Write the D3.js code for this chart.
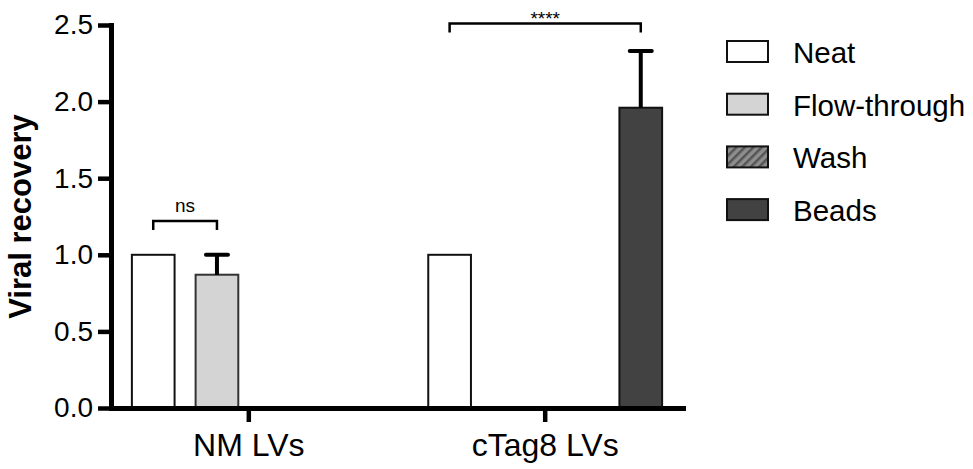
<!DOCTYPE html>
<html>
<head>
<meta charset="utf-8">
<script src="https://cdn.jsdelivr.net/npm/d3@7"></script>
<style>
  body { margin: 0; background: #fff; }
  svg { display: block; }
  text { font-family: "Liberation Sans", Arial, Helvetica, sans-serif; fill: #000; }
</style>
</head>
<body>
<script>
// data
const groups = ["NM LVs", "cTag8 LVs"];
const series = ["Neat", "Flow-through", "Wash", "Beads"];
const meanNM = [1.0, 0.87, null, null];
const meanCTag8 = [1.0, null, null, 1.96];
const errNM = [0, 0.13, 0, 0];
const errCTag8 = [0, 0, 0, 0.37];
const yTicks = [0, 0.5, 1.0, 1.5, 2.0, 2.5];
// significance brackets: group, from series, to series, height (axis units), label
const brackets = [
  { group: "NM LVs", from: "Neat", to: "Flow-through", y: 1.22, label: "ns" },
  { group: "cTag8 LVs", from: "Neat", to: "Beads", y: 2.51, label: "****" }
];

const width = 973, height = 469;
const fills = { "Neat": "#ffffff", "Flow-through": "#d4d4d4", "Wash": "url(#hatch)", "Beads": "#424242" };
const strokes = { "Neat": "#111", "Flow-through": "#333", "Wash": "#222", "Beads": "#111" };

const rows = groups.map((g, gi) => ({
  group: g,
  values: series.map((s, si) => ({
    group: g,
    series: s,
    mean: gi === 0 ? meanNM[si] : meanCTag8[si],
    err: gi === 0 ? errNM[si] : errCTag8[si]
  }))
}));

const svg = d3.select("body").append("svg")
  .attr("width", width)
  .attr("height", height);

const defs = svg.append("defs");
const pat = defs.append("pattern")
  .attr("id", "hatch")
  .attr("patternUnits", "userSpaceOnUse")
  .attr("width", 6)
  .attr("height", 6)
  .attr("patternTransform", "rotate(45)");
pat.append("rect").attr("width", 6).attr("height", 6).attr("fill", "#8e8e8e");
pat.append("rect").attr("width", 2.5).attr("height", 6).attr("fill", "#555");

const x0 = d3.scaleBand()
  .domain(groups)
  .range([111, 683])
  .paddingInner(0.14)
  .paddingOuter(0.035);

const x1 = d3.scaleBand()
  .domain(series)
  .range([0, x0.bandwidth()])
  .paddingInner(0.33)
  .paddingOuter(0.165);

const y = d3.scaleLinear()
  .domain([0, 2.5])
  .range([408, 25]);

// bars
const gGroups = svg.append("g")
  .selectAll("g")
  .data(rows)
  .join("g")
  .attr("transform", d => `translate(${x0(d.group)},0)`);

gGroups.selectAll("rect")
  .data(d => d.values.filter(v => v.mean != null))
  .join("rect")
  .attr("x", d => x1(d.series))
  .attr("y", d => y(d.mean))
  .attr("width", x1.bandwidth())
  .attr("height", d => y(0) - y(d.mean))
  .attr("fill", d => fills[d.series])
  .attr("stroke", d => strokes[d.series])
  .attr("stroke-width", 2);

// error bars (upper only)
const errs = gGroups.selectAll("g.err")
  .data(d => d.values.filter(v => v.mean != null && v.err > 0))
  .join("g")
  .attr("class", "err");

errs.append("line")
  .attr("x1", d => x1(d.series) + x1.bandwidth() / 2)
  .attr("x2", d => x1(d.series) + x1.bandwidth() / 2)
  .attr("y1", d => y(d.mean))
  .attr("y2", d => y(d.mean + d.err))
  .attr("stroke", "#000")
  .attr("stroke-width", 4);

errs.append("line")
  .attr("x1", d => x1(d.series) + x1.bandwidth() / 2 - 11)
  .attr("x2", d => x1(d.series) + x1.bandwidth() / 2 + 11)
  .attr("y1", d => y(d.mean + d.err))
  .attr("y2", d => y(d.mean + d.err))
  .attr("stroke", "#000")
  .attr("stroke-width", 4)
  .attr("stroke-linecap", "round");

// axes
const yAxis = svg.append("g")
  .attr("transform", "translate(111,0)")
  .call(d3.axisLeft(y).tickValues(yTicks).tickFormat(d3.format(".1f")).tickSize(13).tickSizeOuter(0).tickPadding(5));

const xAxis = svg.append("g")
  .attr("transform", `translate(0,${y(0)})`)
  .call(d3.axisBottom(x0).tickSize(14).tickSizeOuter(0).tickPadding(11));

[yAxis, xAxis].forEach(a => {
  a.select(".domain").attr("stroke", "#000").attr("stroke-width", 5).attr("stroke-linecap", "square");
  a.selectAll(".tick line").attr("stroke", "#000").attr("stroke-width", 4.5);
});
yAxis.selectAll(".tick text").style("font-size", "28px");
xAxis.selectAll(".tick text").style("font-size", "32px");

svg.append("text")
  .attr("transform", `translate(31,${(y(0) + y(2.5)) / 2}) rotate(-90)`)
  .attr("text-anchor", "middle")
  .style("font-size", "31px")
  .style("font-weight", "bold")
  .text("Viral recovery");

// significance brackets
brackets.forEach(b => {
  const xa = x0(b.group) + x1(b.from) + x1.bandwidth() / 2;
  const xb = x0(b.group) + x1(b.to) + x1.bandwidth() / 2;
  const yb = y(b.y);
  svg.append("path")
    .attr("d", `M${xa},${yb + 9}V${yb}H${xb}V${yb + 9}`)
    .attr("fill", "none")
    .attr("stroke", "#000")
    .attr("stroke-width", 2.5);
  svg.append("text")
    .attr("x", (xa + xb) / 2)
    .attr("y", b.label === "ns" ? yb - 9 : yb + 1.5)
    .attr("text-anchor", "middle")
    .style("font-size", "19px")
    .text(b.label);
});

// legend
const legend = svg.append("g")
  .selectAll("g")
  .data(series)
  .join("g")
  .attr("transform", (d, i) => `translate(727,${41 + i * 52.7})`);

legend.append("rect")
  .attr("width", 41)
  .attr("height", 21)
  .attr("fill", d => fills[d])
  .attr("stroke", "#111")
  .attr("stroke-width", 2);

legend.append("text")
  .attr("x", 66)
  .attr("y", 22)
  .style("font-size", "29.5px")
  .text(d => d);
</script>
</body>
</html>
